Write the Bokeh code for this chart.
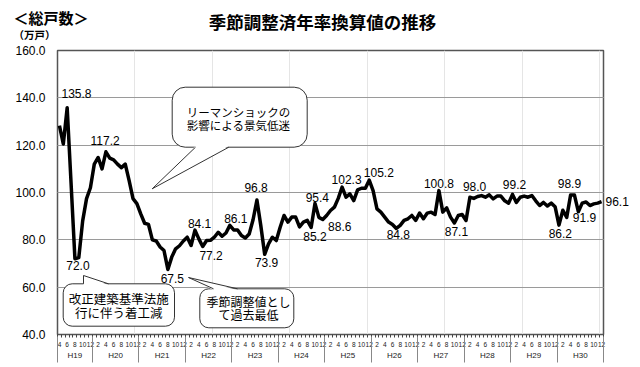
from bokeh.plotting import figure
from bokeh.layouts import column
from bokeh.models import (LinearAxis, FixedTicker, CustomJSTickFormatter, Range1d,
                          ColumnDataSource, LabelSet, NumeralTickFormatter, Grid)
from bokeh.core.properties import value
from bokeh.embed import file_html
from bokeh.resources import INLINE

# ---------------- data ----------------
years = ["H19", "H20", "H21", "H22", "H23", "H24", "H25", "H26", "H27", "H28", "H29", "H30"]
first_month = 4  # series starts April H19
values = [
    128.3, 120.5, 135.8, 104.0, 72.0, 72.5, 88.0, 97.4, 102.0,            # H19 Apr-Dec
    112.0, 114.8, 110.0, 117.2, 114.5, 113.8, 112.0, 110.5, 112.0, 105.0, 97.4, 95.3,  # H20
    91.0, 87.0, 86.5, 80.0, 79.5, 77.0, 75.5, 67.5, 72.7, 76.2, 77.5, 79.5,            # H21
    81.1, 77.6, 84.1, 80.4, 77.2, 79.7, 79.8, 81.1, 83.2, 81.5, 82.9, 86.1,            # H22
    84.2, 84.2, 81.8, 80.8, 82.5, 88.5, 96.8, 86.0, 73.9, 78.3, 81.1, 79.7,            # H23
    85.3, 90.3, 87.5, 89.6, 89.6, 85.5, 87.5, 88.2, 85.2, 95.4, 89.5, 88.6,            # H24
    90.3, 92.4, 93.8, 97.5, 102.3, 98.0, 99.4, 96.6, 101.1, 101.8, 101.8, 105.2,       # H25
    100.8, 93.1, 91.7, 89.6, 87.5, 86.5, 84.8, 86.1, 88.2, 88.9, 90.3, 88.2,           # H26
    91.3, 88.9, 91.3, 91.7, 90.7, 100.8, 91.7, 93.5, 89.6, 87.1, 90.3, 90.7,           # H27
    88.2, 98.0, 97.5, 98.3, 98.7, 98.0, 99.0, 97.3, 98.5, 98.5, 96.5, 95.5,            # H28
    99.2, 95.8, 98.0, 98.5, 98.0, 98.7, 96.5, 94.5, 95.8, 94.3, 95.5, 94.0,            # H29
    86.2, 92.5, 89.5, 98.9, 98.9, 91.9, 95.5, 96.0, 94.5, 95.2, 95.5, 96.1,            # H30
]
# labelled points (index into values) and label offsets in px (right, down)
label_idx = [2, 12, 4, 28, 35, 37, 44, 51, 53, 66, 65, 68, 73, 80, 87, 98, 102, 106, 117, 132, 129, 134]
label_dx = [9.3, -0.8, 3.0, 4.5, 4.6, 8.4, 6.0, -0.8, 1.9, 2.3, 3.8, 17.0, 4.5, 9.6, 2.0, 0.0, 2.0, 4.7, 2.0, -1.2, 1.4, 6.2]
label_dy = [-14.3, -11.3, 6.7, 9.4, -7.0, 9.0, -6.6, -13.0, 8.0, -5.6, 9.0, 7.0, -7.6, -7.4, 6.0, -7.5, 8.0, -11.0, -9.6, -11.3, 8.6, 6.1]
y_ticks = [40, 60, 80, 100, 120, 140, 160]

title_text = "季節調整済年率換算値の推移"
heading_text = "＜総戸数＞"
unit_text = "（万戸）"

n = len(values)
xs = [i + 0.5 for i in range(n)]
months = [((i + first_month - 1) % 12) + 1 for i in range(n)]
month_tick_pos = [xs[i] for i in range(n) if months[i] % 2 == 0]
month_bounds = list(range(n + 1))
year_bounds = [0] + [i for i in range(1, n) if months[i] == 1] + [n]
year_centers = [(a + b) / 2 for a, b in zip(year_bounds[:-1], year_bounds[1:])]

# page geometry
W, H = 640, 367
HDR = 42                                  # header strip height
FL, FR, FT, FB = 57.0, 603.0, 50.0, 334.0  # plot frame inside the page
def X(px):
    return (px - FL) / (FR - FL) * n
def Y(py):
    return 160.0 - (py - FT) / (FB - FT) * 120.0
PXU = (FR - FL) / n
PYU = (FB - FT) / 120.0

JP = "Noto Sans CJK JP"
NUM = "Liberation Sans"

# ---------------- header strip ----------------
hdr = figure(width=W, height=HDR, output_backend="svg", toolbar_location=None,
             x_range=Range1d(0, W), y_range=Range1d(HDR, 0), min_border=0,
             x_axis_location=None, y_axis_location=None)
hdr.frame_align = False
hdr.outline_line_color = None
hdr.background_fill_color = "white"
hdr.border_fill_color = "white"
hdr.xgrid.visible = False
hdr.ygrid.visible = False
hdr.text(x=[322], y=[21], text=[title_text], text_align="center", text_baseline="middle",
         text_font=value(JP), text_font_size="17.5px", text_font_style="bold", text_color="black")
hdr.text(x=[13], y=[16.5], text=[heading_text], text_align="left", text_baseline="middle",
         text_font=value(JP), text_font_size="15px", text_font_style="bold", text_color="black")
hdr.text(x=[13], y=[34], text=[unit_text], text_align="left", text_baseline="middle",
         text_font=value(JP), text_font_size="10.5px", text_font_style="bold", text_color="black")

# ---------------- main chart ----------------
p = figure(width=W, height=H - HDR, output_backend="svg", toolbar_location=None,
           x_range=Range1d(0, n), y_range=Range1d(40, 160),
           x_axis_location=None, y_axis_location=None,
           min_border_left=int(FL), min_border_right=int(W - FR), min_border_top=int(FT - HDR),
           min_border_bottom=int(H - FB))
p.frame_align = False
p.outline_line_color = "#555555"
p.outline_line_width = 1.5
p.background_fill_color = "white"
p.border_fill_color = "white"

yax = LinearAxis(ticker=FixedTicker(ticks=y_ticks), formatter=NumeralTickFormatter(format="0.0"),
                 major_tick_line_color=None, minor_tick_line_color=None, axis_line_color=None,
                 major_tick_out=0, major_tick_in=0, minor_tick_out=0, minor_tick_in=0,
                 major_label_standoff=12, major_label_text_font=NUM,
                 major_label_text_font_size="12px", major_label_text_color="black")
p.add_layout(yax, "left")

# last value shown on the right edge
rax = LinearAxis(ticker=FixedTicker(ticks=[values[-1]]), formatter=NumeralTickFormatter(format="0.0"),
                 major_tick_line_color=None, minor_tick_line_color=None, axis_line_color=None,
                 major_tick_out=0, major_tick_in=0, minor_tick_out=0, minor_tick_in=0,
                 major_label_standoff=2, major_label_text_font=NUM,
                 major_label_text_font_size="12px", major_label_text_color="black")
p.add_layout(rax, "right")

p.add_layout(Grid(dimension=1, ticker=FixedTicker(ticks=y_ticks[1:-1]),
                  grid_line_color="#9a9a9a", grid_line_width=1))

axA = LinearAxis(ticker=FixedTicker(ticks=month_tick_pos, minor_ticks=month_bounds),
                 formatter=CustomJSTickFormatter(args=dict(fm=first_month),
                     code="return String(((Math.floor(tick) + fm - 1) % 12) + 1);"),
                 major_tick_line_color=None, major_tick_in=0, major_tick_out=0,
                 minor_tick_in=0, minor_tick_out=3,
                 minor_tick_line_color="#444444", axis_line_color=None,
                 major_label_text_font=NUM, major_label_text_font_size="6.5px",
                 major_label_standoff=4, major_label_text_color="#222222")
p.add_layout(axA, "below")
axB = LinearAxis(ticker=FixedTicker(ticks=year_centers),
                 formatter=CustomJSTickFormatter(args=dict(pos=year_centers, labels=years),
                     code="const k = pos.indexOf(tick); return k >= 0 ? labels[k] : '';"),
                 major_tick_line_color=None, major_tick_in=0, major_tick_out=0,
                 minor_tick_line_color=None, minor_tick_in=0, minor_tick_out=0,
                 axis_line_color=None,
                 major_label_text_font=NUM, major_label_text_font_size="8px",
                 major_label_standoff=1, major_label_text_color="#222222")
p.add_layout(axB, "below")
axC = LinearAxis(ticker=FixedTicker(ticks=[], minor_ticks=year_bounds),
                 major_tick_line_color=None, major_tick_in=0, major_tick_out=0,
                 minor_tick_in=26, minor_tick_out=0, minor_tick_line_color="#888888",
                 axis_line_color=None, major_label_text_font_size="0px", major_label_standoff=0)
p.add_layout(axC, "below")

# main series
p.line(xs, values, line_width=3.5, line_color="black", line_join="round")

# value labels
lsrc = ColumnDataSource(dict(
    x=[xs[i] + dx / PXU for i, dx in zip(label_idx, label_dx)],
    y=[values[i] - dy / PYU for i, dy in zip(label_idx, label_dy)],
    t=["%.1f" % values[i] for i in label_idx]))
p.add_layout(LabelSet(x="x", y="y", text="t", source=lsrc, text_align="center",
                      text_baseline="middle", text_font=value(NUM), text_font_size="12px",
                      text_color="black"))

# callouts
callouts = [
    dict(box=(62.7, 174.0, 283.3, 325.7), r=9, tail=((83.0, 275.0), (83.0, 283.3), (108.0, 283.3)),
         lines=["改正建築基準法施", "行に伴う着工減"], cx=118.3, cy=[297.5, 311.7], fs="12.5px"),
    dict(box=(199.3, 293.3, 288.3, 327.3), r=9, tail=((188.0, 277.0), (213.0, 288.3), (237.0, 288.3)),
         lines=["季節調整値とし", "て過去最低"], cx=248.0, cy=[300.5, 313.5], fs="12px"),
    dict(box=(171.7, 306.7, 86.7, 146.7), r=13, tail=((151.7, 188.3), (195.0, 146.7), (228.3, 146.7)),
         lines=["リーマンショックの", "影響による景気低迷"], cx=238.0, cy=[111.0, 124.0], fs="11.5px"),
]
for c in callouts:
    l, r, t, b = c["box"]
    p.quad(left=X(l), right=X(r), top=Y(t), bottom=Y(b), fill_color="white",
           line_color="#333333", line_width=1, border_radius=c["r"])
    a, b1, b2 = c["tail"]
    sgn = 1.2 if b1[1] > a[1] else -1.2
    p.patch([X(a[0]), X(b1[0]), X(b2[0])], [Y(a[1]), Y(b1[1] + sgn), Y(b2[1] + sgn)],
            fill_color="white", line_color=None)
    p.multi_line([[X(a[0]), X(b1[0])], [X(a[0]), X(b2[0])]],
                 [[Y(a[1]), Y(b1[1])], [Y(a[1]), Y(b2[1])]], line_color="#333333", line_width=1)
    for txt, yy in zip(c["lines"], c["cy"]):
        p.text(x=[X(c["cx"])], y=[Y(yy)], text=[txt], text_align="center", text_baseline="middle",
               text_font=value(JP), text_font_size=c["fs"], text_color="black")

layout = column(hdr, p, spacing=0)
open("out.html", "w").write(file_html(layout, INLINE))
